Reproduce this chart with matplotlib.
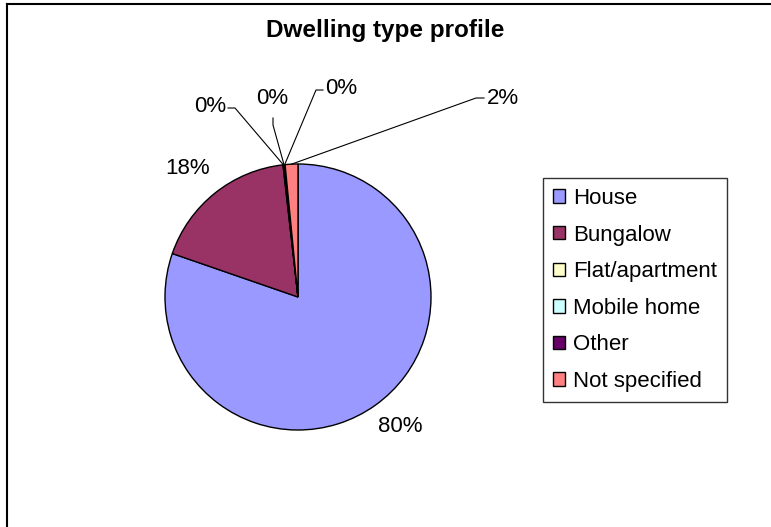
import matplotlib.pyplot as plt
from matplotlib.lines import Line2D
import numpy as np

# ---- data ----
CATEGORIES = ['House', 'Bungalow', 'Flat/apartment', 'Mobile home', 'Other', 'Not specified']
SHARES = [80.3, 17.9, 0.1, 0.05, 0.1, 1.55]
COLOURS = ['#9999FF', '#993366', '#FFFFCC', '#CCFFFF', '#660066', '#FF8080']

# ---- layout (pixels, origin top-left) ----
W, H = 771, 527
PIE_CENTER = (298, 297)
PIE_RADIUS = 133
LABEL_POS = [(400, 427), (188, 168), (210, 107), (272, 98), (341, 89), (503, 98)]
# leader paths (after the anchor on the slice edge)
LEADERS = [None, None,
           [(235, 108), (228, 108)],
           [(273, 125), (273, 118)],
           [(316, 90), (323, 90)],
           [(476, 98), (484, 98)]]
FS = 16

plt.rcParams['font.family'] = ['Liberation Sans', 'DejaVu Sans']

fig = plt.figure(figsize=(W / 100, H / 100), dpi=100)
ax = fig.add_axes([0, 0, 1, 1])


def px(x, y):
    return x, H - y


wedges, _ = ax.pie(SHARES, colors=COLOURS, startangle=90, counterclock=False,
                   center=px(*PIE_CENTER), radius=PIE_RADIUS, frame=True,
                   wedgeprops=dict(edgecolor='black', linewidth=1))

ax.set_xlim(0, W)
ax.set_ylim(0, H)
ax.set_aspect('equal')
ax.axis('off')

# data labels + leader lines
for w, v, pos, path in zip(wedges, SHARES, LABEL_POS, LEADERS):
    ax.text(*px(*pos), f'{v:.0f}%', ha='center', va='center', fontsize=FS)
    if path is not None:
        mid = np.deg2rad((w.theta1 + w.theta2) / 2)
        xs = [w.center[0] + w.r * np.cos(mid)]
        ys = [w.center[1] + w.r * np.sin(mid)]
        for p in path:
            qx, qy = px(*p)
            xs.append(qx)
            ys.append(qy)
        ax.plot(xs, ys, color='black', lw=0.8)

# title
fig.text(385 / W, 1 - 31 / H, 'Dwelling type profile', ha='center', va='center',
         fontsize=17.5, fontweight='bold')

# legend
leg = ax.legend(wedges, CATEGORIES, loc='upper left',
                bbox_to_anchor=(543 / W, 1 - 178 / H), bbox_transform=fig.transFigure,
                fontsize=FS, frameon=True, fancybox=False, edgecolor='black',
                handlelength=0.55, handleheight=0.55, handletextpad=0.35,
                labelspacing=0.7, borderpad=0.45, borderaxespad=0)
leg.get_frame().set_linewidth(1)

# chart area border (left and top visible)
fig.add_artist(Line2D([7 / W, 7 / W], [0, 1 - 4 / H], transform=fig.transFigure, color='black', lw=1.5))
fig.add_artist(Line2D([7 / W, 1], [1 - 4 / H, 1 - 4 / H], transform=fig.transFigure, color='black', lw=1.5))

fig.savefig('out.png', dpi=100)
